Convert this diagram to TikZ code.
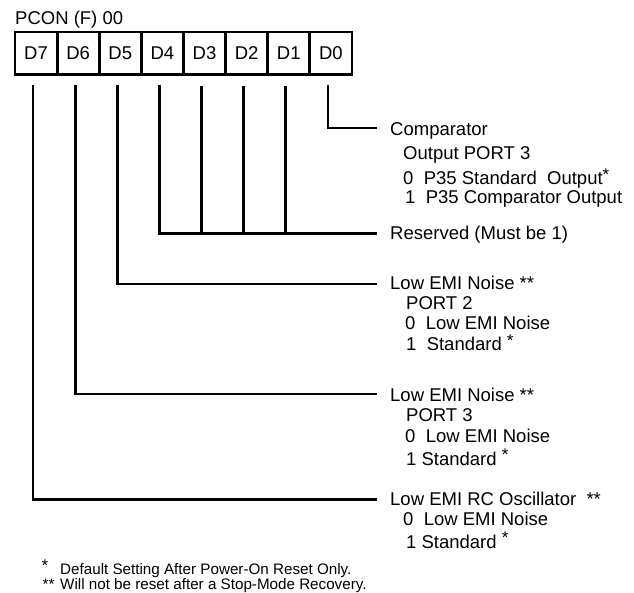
\documentclass[tikz,border=0pt]{standalone}
\usepackage{fontspec}
\setmainfont{Liberation Sans}
\begin{document}
\begin{tikzpicture}[x=1pt,y=-1pt,
  cell/.style={draw,line width=2.8pt,minimum width=42.125pt,minimum height=42.5pt,inner sep=0pt,font=\fontsize{18.5}{22}\selectfont},
  lbl/.style={anchor=base west,inner sep=0pt,font=\fontsize{18.5}{22}\selectfont},
  foot/.style={anchor=base west,inner sep=0pt,font=\fontsize{15.2}{18}\selectfont},
  wire/.style={line width=2.8pt,line cap=rect},
  tap/.style={line width=2.8pt,line cap=butt}]
\useasboundingbox (0,0) rectangle (634,593);
\newcommand{\supast}{\raisebox{0.25em}{\fontsize{17}{17}\selectfont *}}
% title
\node[lbl] (title) at (15,25) {PCON (F) 00};
% register cells and connector start points
\foreach \n/\i in {7/0,6/1,5/2,4/3,3/4,2/5,1/6,0/7}{
  \node[cell] (d\n) at ({15+42.125*(\i+0.5)},53.25) {D\n};
  \coordinate (t\n) at ([xshift=-3pt,yshift=-10.5pt]d\n.south);
}
% labels
\node[lbl] (cmpA) at (390,136) {Comparator};
\node[lbl] (cmpB) at (403,159.3) {Output PORT 3};
\node[lbl] (cmpC) at (403,185) {0\ \ P35 Standard\ \ Output\supast};
\node[lbl] (cmpD) at (405,203.3) {1\ \ P35 Comparator Output};
\node[lbl] (res) at (390,240) {Reserved (Must be 1)};
\node[lbl] (p2A) at (390,290) {Low EMI Noise **};
\node[lbl] (p2B) at (406,309.3) {PORT 2};
\node[lbl] (p2C) at (405,330) {0\ \ Low EMI Noise};
\node[lbl] (p2D) at (406,350.7) {1\ \ Standard \supast};
\node[lbl] (p3A) at (390,401.7) {Low EMI Noise **};
\node[lbl] (p3B) at (406,421.7) {PORT 3};
\node[lbl] (p3C) at (405,442.7) {0\ \ Low EMI Noise};
\node[lbl] (p3D) at (406,465) {1 Standard \supast};
\node[lbl] (oscA) at (390,505) {Low EMI RC Oscillator\ \ **};
\node[lbl] (oscB) at (403,525.7) {0\ \ Low EMI Noise};
\node[lbl] (oscC) at (406,548.3) {1 Standard \supast};
% footnotes
\node[foot] (f1s) at (41.5,571) {\fontsize{17}{17}\selectfont *};
\node[foot] (f1) at (60,574) {Default Setting After Power-On Reset Only.};
\node[foot] (f2s) at (42.5,589.5) {**};
\node[foot] (f2) at (60,589.5) {Will not be reset after a Stop-Mode Recovery.};
% connector end points
\coordinate (e0) at (376,128);
\coordinate (e1) at (376,233.3);
\coordinate (e5) at (376,284);
\coordinate (e6) at (376,394);
\coordinate (e7) at (376,499.3);
% connectors
\draw[wire] (t0) |- (e0);
\draw[wire] (t4) |- (e1);
\foreach \n in {3,2,1}{
  \draw[tap] (t\n) -- (t\n |- e1);
}
\draw[wire] (t5) |- (e5);
\draw[wire] (t6) |- (e6);
\draw[wire] (t7) |- (e7);
\end{tikzpicture}
\end{document}
